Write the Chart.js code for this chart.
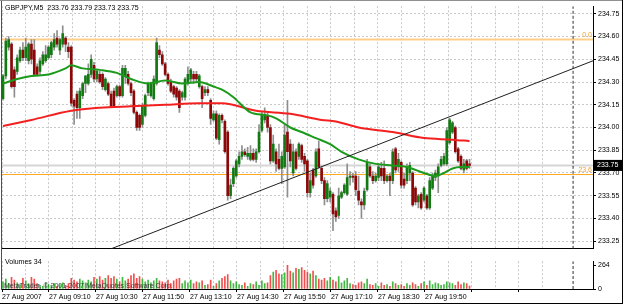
<!DOCTYPE html>
<html>
<head>
<meta charset="utf-8">
<script src="https://cdn.jsdelivr.net/npm/chart.js@4.4.0/dist/chart.umd.min.js"></script>
<style>
body { margin: 0; background: #fff; }
#wrap { position: relative; width: 625px; height: 305px; background: #fff; overflow: hidden; }
#main { position: absolute; left: 0; top: 0; }
#vol { position: absolute; left: 0; top: 255px; }
.ln { position: absolute; background: #000; }
</style>
</head>
<body>
<div id="wrap">
  <canvas id="main" width="625" height="255"></canvas>
  <canvas id="vol" width="625" height="50"></canvas>
  <div class="ln" style="left:1px;top:0;width:1px;height:290px;background:#505050"></div>
  <div class="ln" style="left:0;top:0;width:623px;height:1px;background:#909090"></div>
  <div class="ln" style="left:622px;top:0;width:1px;height:304px"></div>
  <div class="ln" style="left:0;top:303px;width:623px;height:1px"></div>
</div>
<script>
// GBPJPY M5, 27 Aug 2007 - one entry per bar
var symbolName = "GBPJPY,M5";

var openP = [
  234.19,234.34,234.53,234.55,234.38,234.37,234.44,234.51,234.46,234.44,234.55,234.51,234.40,234.37,234.42,234.44,
  234.46,234.48,234.53,234.59,234.51,234.55,234.59,234.53,234.53,234.18,234.22,234.13,234.21,234.29,234.29,234.35,
  234.41,234.32,234.35,234.35,234.25,234.29,234.22,234.24,234.21,234.27,234.21,234.34,234.35,234.29,234.24,234.10,
  234.08,234.02,234.08,234.23,234.21,234.19,234.29,234.51,234.48,234.42,234.35,234.30,234.27,234.26,234.24,234.20,
  234.20,234.29,234.32,234.35,234.35,234.27,
  234.27,234.23,234.25,234.18,234.05,234.09,233.92,234.08,234.04,233.97,233.55,233.63,233.68,233.76,233.81,233.84,
  233.81,233.79,233.83,233.79,233.84,233.98,234.05,234.08,234.00,233.78,233.84,233.79,233.73,233.74,233.97,233.89,
  233.70,233.84,233.81,233.88,233.81,233.78,233.57,233.72,233.68,233.86,233.73,233.65,233.53,
  233.54,233.56,233.45,233.42,233.54,233.57,233.56,233.67,233.68,233.68,233.58,233.51,233.49,233.59,233.74,233.68,
  233.65,233.67,233.73,233.73,233.65,233.68,233.65,233.86,233.74,233.77,233.66,233.65,233.70,233.70,233.60,233.51,
  233.56,233.52,233.55,233.47,233.60,233.67,233.68,233.75,233.76,233.76,233.90,233.97,234.00,233.86,233.81,233.72,
  233.78,233.76
];
var highP = [
  234.35,234.59,234.60,234.56,234.40,234.48,234.53,234.56,234.59,234.56,234.58,234.58,234.42,234.46,234.50,234.54,
  234.54,234.57,234.62,234.64,234.59,234.67,234.60,234.56,234.54,234.19,234.24,234.26,234.30,234.34,234.42,234.48,
  234.43,234.38,234.37,234.36,234.33,234.30,234.24,234.26,234.28,234.28,234.41,234.41,234.37,234.30,234.25,234.11,
  234.09,234.16,234.22,234.30,234.30,234.34,234.59,234.54,234.50,234.43,234.36,234.32,234.28,234.27,234.25,234.24,
  234.33,234.40,234.39,234.37,234.37,234.35,
  234.28,234.27,234.27,234.19,234.11,234.11,234.09,234.09,234.05,233.98,233.66,233.74,233.79,233.84,233.88,233.86,
  233.87,233.88,233.86,233.86,234.02,234.10,234.13,234.10,234.02,233.95,233.86,233.89,233.84,234.02,234.18,233.92,
  233.89,233.86,233.90,233.89,233.83,233.79,233.70,233.73,233.86,233.91,233.74,233.67,233.65,
  233.60,233.57,233.47,233.60,233.58,233.63,233.76,233.71,233.70,233.71,233.68,233.53,233.60,233.79,233.76,233.71,
  233.70,233.76,233.77,233.78,233.69,233.70,233.86,233.87,233.83,233.78,233.70,233.76,233.77,233.71,233.61,233.56,
  233.57,233.61,233.56,233.67,233.70,233.72,233.76,233.81,233.83,234.00,234.06,234.04,234.01,233.87,233.82,233.79,
  233.79,233.79
];
var lowP = [
  234.18,234.32,234.51,234.26,234.20,234.35,234.43,234.44,234.44,234.42,234.42,234.34,234.34,234.35,234.41,234.43,
  234.45,234.46,234.51,234.53,234.48,234.53,234.50,234.46,234.14,234.02,234.06,234.06,234.19,234.23,234.28,234.33,
  234.30,234.30,234.29,234.25,234.24,234.21,234.13,234.13,234.20,234.20,234.20,234.29,234.28,234.21,234.09,233.98,
  233.98,234.00,234.07,234.21,234.20,234.18,234.28,234.46,234.41,234.34,234.28,234.23,234.20,234.18,234.10,234.18,
  234.18,234.28,234.30,234.29,234.30,234.26,
  234.13,234.21,234.21,234.02,234.04,233.92,233.89,234.03,233.83,233.52,233.53,233.61,233.67,233.74,233.79,233.81,
  233.79,233.78,233.78,233.77,233.83,233.97,234.03,233.97,233.76,233.77,233.71,233.72,233.63,233.73,233.54,233.74,
  233.68,233.72,233.79,233.77,233.71,233.54,233.54,233.60,233.67,233.73,233.63,233.49,233.51,
  233.51,233.32,233.38,233.40,233.53,233.56,233.55,233.62,233.64,233.55,233.49,233.40,233.46,233.58,233.67,233.63,
  233.64,233.65,233.65,233.63,233.64,233.55,233.63,233.70,233.71,233.60,233.60,233.63,233.65,233.48,233.49,233.47,
  233.46,233.51,233.46,233.46,233.59,233.65,233.57,233.74,233.75,233.75,233.89,233.96,233.83,233.77,233.72,233.70,
  233.72,233.73
];
var closeP = [
  234.34,234.57,234.58,234.27,234.27,234.46,234.51,234.46,234.53,234.55,234.45,234.35,234.35,234.44,234.48,234.48,
  234.53,234.56,234.58,234.55,234.58,234.62,234.55,234.50,234.16,234.14,234.13,234.24,234.29,234.34,234.35,234.45,
  234.32,234.37,234.30,234.27,234.32,234.22,234.14,234.14,234.27,234.21,234.39,234.39,234.29,234.23,234.10,234.00,
  234.00,234.14,234.21,234.29,234.29,234.32,234.56,234.48,234.42,234.35,234.29,234.24,234.22,234.20,234.13,234.23,
  234.32,234.35,234.38,234.32,234.32,234.34,
  234.19,234.25,234.23,234.06,234.09,233.93,234.08,234.05,233.84,233.55,233.62,233.73,233.78,233.81,233.84,233.82,
  233.83,233.83,233.79,233.84,233.97,234.08,234.08,234.00,233.78,233.89,233.76,233.73,233.81,233.95,233.84,233.78,
  233.84,233.73,233.89,233.79,233.76,233.57,233.65,233.62,233.84,233.74,233.65,233.53,233.63,
  233.58,233.43,233.41,233.55,233.57,233.62,233.67,233.68,233.67,233.59,233.52,233.49,233.58,233.77,233.68,233.65,
  233.68,233.74,233.68,233.65,233.68,233.65,233.84,233.72,233.79,233.62,233.62,233.74,233.75,233.49,233.51,233.55,
  233.47,233.60,233.47,233.65,233.68,233.70,233.74,233.79,233.81,233.98,234.05,234.03,233.84,233.78,233.73,233.76,
  233.73,233.75
];
var volumes = [
  80,110,60,130,100,70,50,120,90,60,130,110,60,40,30,70,50,40,60,30,50,70,40,60,120,100,80,110,90,70,100,80,
  130,110,140,100,120,150,120,140,110,80,130,90,110,150,170,120,140,110,80,100,70,90,
  120,90,80,70,100,60,90,110,120,60,90,70,100,60,80,70,
  90,40,50,100,30,60,90,120,140,160,90,60,80,50,40,70,30,60,50,80,40,90,60,70,
  150,190,210,170,160,180,264,200,180,230,220,240,210,190,170,200,150,110,100,120,90,
  130,100,80,140,70,90,120,60,50,40,70,80,60,110,50,40,60,30,70,40,50,30,80,60,40,50,30,60,40,
  70,50,30,60,80,40,90,50,70,60,40,50,80,70,60,40,80,50,70,60,34
];

// moving averages (bar index, price)
var greenMaBar = [0,5,10,16,22,24,28,34,40,45,51,57,63,69,74,77,81,87,93,96,101,105,110,115,119,125,131,137,142,148,152,155,158,161,164];
var greenMa = [234.29,234.32,234.34,234.35,234.39,234.41,234.39,234.38,234.36,234.32,234.29,234.31,234.29,234.30,234.27,234.25,234.20,234.10,234.08,234.06,
  234.00,233.97,233.93,233.89,233.84,233.79,233.76,233.75,233.74,233.70,233.68,233.70,233.73,233.74,233.74];
var redMaBar = [0,10,24,34,45,57,69,77,89,101,112,117,125,137,148,158,164];
var redMa = [234.01,234.05,234.11,234.13,234.14,234.15,234.16,234.16,234.11,234.09,234.05,234.04,234.00,233.97,233.93,233.92,233.91];

// objects on the chart
var trendBar = [38, 207.4];
var trendPrice = [233.20, 234.44];
var fibLevels = [234.58, 233.69];
var fibNames = ["0.0", "23.6"];
var bidPrice = 233.75;
var shiftBar = 200.4;

// axes
var priceTicks = [234.75, 234.60, 234.45, 234.30, 234.15, 234.00, 233.85, 233.70, 233.55, 233.40, 233.25];
var volumeTicks = [0, 264];
var timeLabels = ["27 Aug 2007", "27 Aug 09:10", "27 Aug 10:30", "27 Aug 11:50", "27 Aug 13:10",
  "27 Aug 14:30", "27 Aug 15:50", "27 Aug 17:10", "27 Aug 18:30", "27 Aug 19:50"];
var xMin = -0.35, xMax = 207.4;
var gridStep = 8.26, gridCount = 24;
var priceMin = 233.20, priceMax = 234.80;
var volMax = 311;

var FONT = '7px "Liberation Sans"';
Chart.defaults.font.family = "Liberation Sans";
Chart.defaults.font.size = 7;
Chart.defaults.color = "#000";

var last = openP.length - 1;
var titleText = symbolName + "  " + [openP[last], highP[last], lowP[last], closeP[last]].map(v => v.toFixed(2)).join(" ");

function isUp(i) { return closeP[i] >= openP[i]; }

function timeGrid(axis) {
  axis.ticks = [];
  for (let j = 0; j < gridCount; j++) axis.ticks.push({ value: xMin + j * gridStep });
}

function flatLine(price) {
  return [{ x: xMin, y: price }, { x: xMax, y: price }];
}

var mainText = {
  id: "mainText",
  afterDraw(chart) {
    const { ctx, chartArea, scales } = chart;
    ctx.save();
    ctx.font = FONT;
    ctx.fillStyle = "#000";
    ctx.textAlign = "left";
    ctx.textBaseline = "middle";
    ctx.fillText(titleText, 5, 8);

    ctx.fillStyle = "#f0a030";
    ctx.textAlign = "right";
    ctx.textBaseline = "bottom";
    fibLevels.forEach((v, k) => ctx.fillText(fibNames[k], chartArea.right - 1, scales.y.getPixelForValue(v) - 1));

    // current price box on the axis
    const py = scales.y.getPixelForValue(bidPrice);
    ctx.fillStyle = "#000";
    ctx.fillRect(chartArea.right + 1, py - 5.5, 28, 11);
    ctx.fillStyle = "#fff";
    ctx.textAlign = "left";
    ctx.textBaseline = "middle";
    ctx.fillText(bidPrice.toFixed(2), chartArea.right + 4, py);
    ctx.restore();
  }
};

var volText = {
  id: "volText",
  afterDraw(chart) {
    const ctx = chart.ctx;
    ctx.save();
    ctx.font = FONT;
    ctx.textAlign = "left";
    ctx.textBaseline = "middle";
    ctx.fillStyle = "#000";
    ctx.fillText("Volumes " + volumes[last], 5, 7);
    ctx.fillStyle = "rgba(40,40,40,0.85)";
    ctx.fillText("MetaTrader, \u00a9 2001-2007 MetaQuotes Software Corp.", 4, 31);
    ctx.restore();
  }
};

var gridColor = "#c8c8c8";

new Chart(document.getElementById("main"), {
  type: "bar",
  data: {
    datasets: [
      { type: "line", data: flatLine(bidPrice), borderColor: "#d6d6d6", borderWidth: 2, pointRadius: 0, order: 12 },
      { type: "line", data: flatLine(fibLevels[0]), borderColor: "#ffcf88", borderWidth: 2, pointRadius: 0, order: 11 },
      { type: "line", data: flatLine(fibLevels[1]), borderColor: "#ffaa22", borderWidth: 1, pointRadius: 0, order: 11 },
      {
        label: "wick",
        data: openP.map((_, i) => ({ x: i, y: [lowP[i], highP[i]] })),
        backgroundColor: "#8e8e8e", barThickness: 1, grouped: false, order: 6
      },
      {
        label: "body",
        data: openP.map((_, i) => ({ x: i, y: [openP[i], closeP[i]] })),
        backgroundColor: openP.map((_, i) => isUp(i) ? "#137a13" : "#8c0808"),
        barThickness: 2, minBarLength: 1, grouped: false, order: 5
      },
      {
        type: "line", data: redMaBar.map((b, k) => ({ x: b, y: redMa[k] })),
        borderColor: "#f42020", borderWidth: 2, pointRadius: 0, cubicInterpolationMode: "monotone", order: 3
      },
      {
        type: "line", data: greenMaBar.map((b, k) => ({ x: b, y: greenMa[k] })),
        borderColor: "#1c9a1c", borderWidth: 2, pointRadius: 0, cubicInterpolationMode: "monotone", order: 2
      },
      {
        type: "line", data: trendBar.map((b, k) => ({ x: b, y: trendPrice[k] })),
        borderColor: "#202020", borderWidth: 1, pointRadius: 0, order: 1
      },
      {
        type: "line", data: [{ x: shiftBar, y: priceMin }, { x: shiftBar, y: priceMax }],
        borderColor: "#303030", borderWidth: 1, borderDash: [3, 2], pointRadius: 0, order: 1
      }
    ]
  },
  options: {
    responsive: false,
    animation: false,
    devicePixelRatio: 1,
    layout: { padding: { left: 2, top: 2, right: 0, bottom: 2 } },
    plugins: { legend: { display: false }, tooltip: { enabled: false } },
    scales: {
      x: {
        type: "linear", min: xMin, max: xMax, offset: false,
        afterBuildTicks: timeGrid,
        afterFit(axis) { axis.height = 0; },
        ticks: { display: false },
        grid: { color: gridColor, drawTicks: false, offset: false },
        border: { display: true, color: "#000", dash: [2, 2] }
      },
      y: {
        type: "linear", position: "right", min: priceMin, max: priceMax,
        afterBuildTicks(axis) { axis.ticks = priceTicks.map(v => ({ value: v })); },
        afterFit(axis) { axis.width = 32; },
        ticks: { callback: v => v.toFixed(2), padding: 2, font: { size: 7 } },
        grid: { color: gridColor, tickLength: 3, tickColor: "#000", tickBorderDash: [] },
        border: { display: true, color: "#000", dash: [2, 2] }
      }
    }
  },
  plugins: [mainText]
});

new Chart(document.getElementById("vol"), {
  type: "bar",
  data: {
    datasets: [
      {
        data: volumes.map((v, i) => ({ x: i, y: v })),
        backgroundColor: volumes.map((_, i) => isUp(i) ? "rgba(20,165,20,0.8)" : "rgba(238,35,35,0.8)"),
        barThickness: 1, grouped: false, order: 2
      },
      {
        type: "line", data: [{ x: shiftBar, y: 0 }, { x: shiftBar, y: volMax }],
        borderColor: "#303030", borderWidth: 1, borderDash: [3, 2], pointRadius: 0, order: 1
      }
    ]
  },
  options: {
    responsive: false,
    animation: false,
    devicePixelRatio: 1,
    layout: { padding: { left: 2, top: 1, right: 0, bottom: 0 } },
    plugins: { legend: { display: false }, tooltip: { enabled: false } },
    scales: {
      x: {
        type: "linear", min: xMin, max: xMax, offset: false,
        afterBuildTicks: timeGrid,
        afterFit(axis) { axis.height = 16; },
        ticks: {
          autoSkip: false, maxRotation: 0, align: "start", padding: 1, font: { size: 7 },
          callback: (v, idx) => (idx % 2 === 0 && timeLabels[idx / 2]) ? timeLabels[idx / 2] : ""
        },
        grid: {
          color: gridColor, offset: false, tickLength: 3,
          tickColor: c => (c.index % 2 === 0 ? "#000" : "rgba(0,0,0,0)"), tickBorderDash: []
        },
        border: { display: true, color: "#000", dash: [2, 2] }
      },
      y: {
        type: "linear", position: "right", min: 0, max: volMax,
        afterBuildTicks(axis) { axis.ticks = volumeTicks.map(v => ({ value: v })); },
        afterFit(axis) { axis.width = 32; },
        ticks: { padding: 2, font: { size: 7 } },
        grid: { drawOnChartArea: false, tickLength: 3, tickColor: "#000" },
        border: { display: true, color: "#000" }
      }
    }
  },
  plugins: [volText]
});
</script>
</body>
</html>
